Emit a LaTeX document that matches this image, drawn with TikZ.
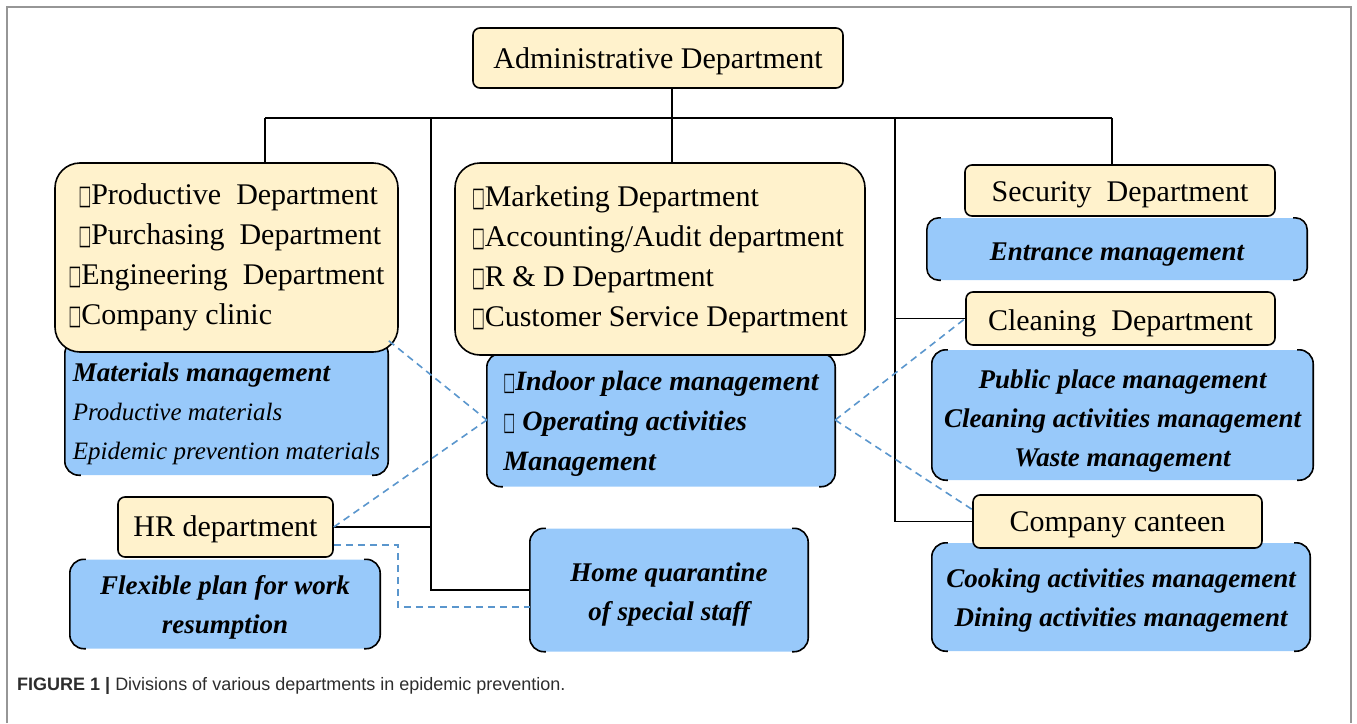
\documentclass[tikz,border=0pt]{standalone}
\usepackage{fontspec}
\usepackage{graphicx}
\setmainfont{Liberation Serif}
\newfontfamily\capfont{Liberation Sans}
\newfontfamily\symfont{DejaVu Sans}
\definecolor{tanc}{RGB}{255,242,204}
\definecolor{bluec}{RGB}{152,201,250}
\definecolor{dashc}{RGB}{90,150,205}
\definecolor{framec}{RGB}{150,150,150}
\definecolor{capc}{RGB}{45,45,45}
\newcommand\sq{{\symfont\scalebox{0.45}[0.9]{□}}}
\newcommand\dn[1]{\rule{0pt}{#1pt}}
\newcommand\sidebars[2]{%
  \draw[line width=1.6pt, rounded corners=#2pt] ([xshift=#2pt+2pt]#1.north west) -- (#1.north west) -- (#1.south west) -- ([xshift=#2pt+2pt]#1.south west);
  \draw[line width=1.6pt, rounded corners=#2pt] ([xshift=-#2pt-2pt]#1.north east) -- (#1.north east) -- (#1.south east) -- ([xshift=-#2pt-2pt]#1.south east);}
\begin{document}
\begin{tikzpicture}[x=1pt,y=-1pt,
  tanbox/.style={draw=black, line width=1.6pt, fill=tanc, rounded corners=7pt, inner sep=0pt, font=\fontsize{30}{40}\selectfont},
  bluebox/.style={fill=bluec, rounded corners=14pt, inner sep=0pt, font=\fontsize{27}{39}\selectfont\bfseries\itshape},
  link/.style={line width=1.6pt},
  dlink/.style={draw=dashc, line width=1.6pt, dash pattern=on 7pt off 5pt}]
\useasboundingbox (0,0) rectangle (1357,723);
\draw[framec, line width=1.2pt] (7,723) -- (7,7) -- (1351,7) -- (1351,723);

% blue boxes
\node[bluebox, minimum width=323, minimum height=135, align=left] (mat) at (226.5,407.5)
  {\dn{31}Materials management\\ {\mdseries\fontsize{25}{39}\selectfont Productive materials}\\ {\mdseries\fontsize{25}{39}\selectfont Epidemic prevention materials}};
\node[bluebox, minimum width=348, minimum height=133, align=left, font=\fontsize{28}{40}\selectfont\bfseries\itshape] (indoor) at (661,420)
  {\dn{26}\sq Indoor place management\\ \sq\ Operating activities\\ Management};
\node[bluebox, minimum width=380, minimum height=62] (ent) at (1117,249) {\dn{28}Entrance management};
\node[bluebox, minimum width=381, minimum height=130, align=center] (pub) at (1122.5,415)
  {\dn{30}Public place management\\ Cleaning activities management\\ Waste management};
\node[bluebox, minimum width=378, minimum height=108, align=center] (cook) at (1121,597)
  {\dn{25}Cooking activities management\\ Dining activities management};
\node[bluebox, minimum width=310, minimum height=89, align=center] (flex) at (225,604)
  {\dn{25}Flexible plan for work\\ resumption};
\node[bluebox, minimum width=278, minimum height=123, align=center] (home) at (669,590)
  {\dn{27}Home quarantine\\ of special staff};
\sidebars{mat}{14}
\sidebars{indoor}{14}
\sidebars{ent}{12}
\sidebars{pub}{14}
\sidebars{cook}{14}
\sidebars{flex}{14}
\sidebars{home}{14}

% tan boxes
\node[tanbox, minimum width=370, minimum height=60] (admin) at (658,58) {\dn{28}Administrative Department};
\node[tanbox, rounded corners=25pt, minimum width=343, minimum height=189, align=left] (prod) at (226.5,257.5)
  {\hspace{10pt}\sq Productive\ \ Department\\ \hspace{10pt}\sq Purchasing\ \ Department\\ \sq Engineering\ \ Department\\ \sq Company clinic};
\node[tanbox, rounded corners=25pt, minimum width=410, minimum height=192, align=left] (mkt) at (660,259)
  {\sq Marketing Department\\ \sq Accounting/Audit department\\ \sq R \& D Department\\ \sq Customer Service Department};
\node[tanbox, minimum width=310, minimum height=51] (sec) at (1120,190.5) {\dn{28}Security\ \ Department};
\node[tanbox, minimum width=309, minimum height=53] (clean) at (1120.5,318.5) {\dn{30}Cleaning\ \ Department};
\node[tanbox, minimum width=289, minimum height=53] (cant) at (1117.5,521.5) {\dn{26}Company canteen};
\node[tanbox, minimum width=215, minimum height=60] (hr) at (225.5,527) {\dn{26}HR department};

% solid connectors
\coordinate (busL) at (265,118);
\coordinate (busR) at (1112,118);
\coordinate (tL) at (431,118);
\coordinate (tR) at (895,118);
\draw[link] (busL) -- (busR);
\draw[link] ([xshift=14pt]admin.south) -- ([xshift=12pt]mkt.north);
\draw[link] (busL) -- (busL |- prod.north);
\draw[link] (busR) -- (busR |- sec.north);
\draw[link] (tL) -- (tL |- home.west) -- (home.west);
\draw[link] (hr.east) -- (hr.east -| tL);
\draw[link] (tR) -- (tR |- cant.west) -- (cant.west);
\draw[link] (clean.west) -- (clean.west -| tR);

% dashed connectors
\draw[dlink] ([xshift=-10pt,yshift=12pt]prod.south east) -- (indoor.west);
\draw[dlink] (hr.east) -- (indoor.west);
\draw[dlink] (indoor.east) -- (clean.west);
\draw[dlink] (indoor.east) -- ([yshift=12pt]cant.west);
\draw[dlink] ([yshift=-18pt]hr.east) -- ++(64,0) |- ([yshift=-17pt]home.west);

% caption
\node[anchor=base west, inner sep=0pt, text=capc, font=\capfont\fontsize{18}{21}\selectfont] (cap) at (17,690)
  {\textbf{FIGURE 1 |} Divisions of various departments in epidemic prevention.};
\end{tikzpicture}
\end{document}
